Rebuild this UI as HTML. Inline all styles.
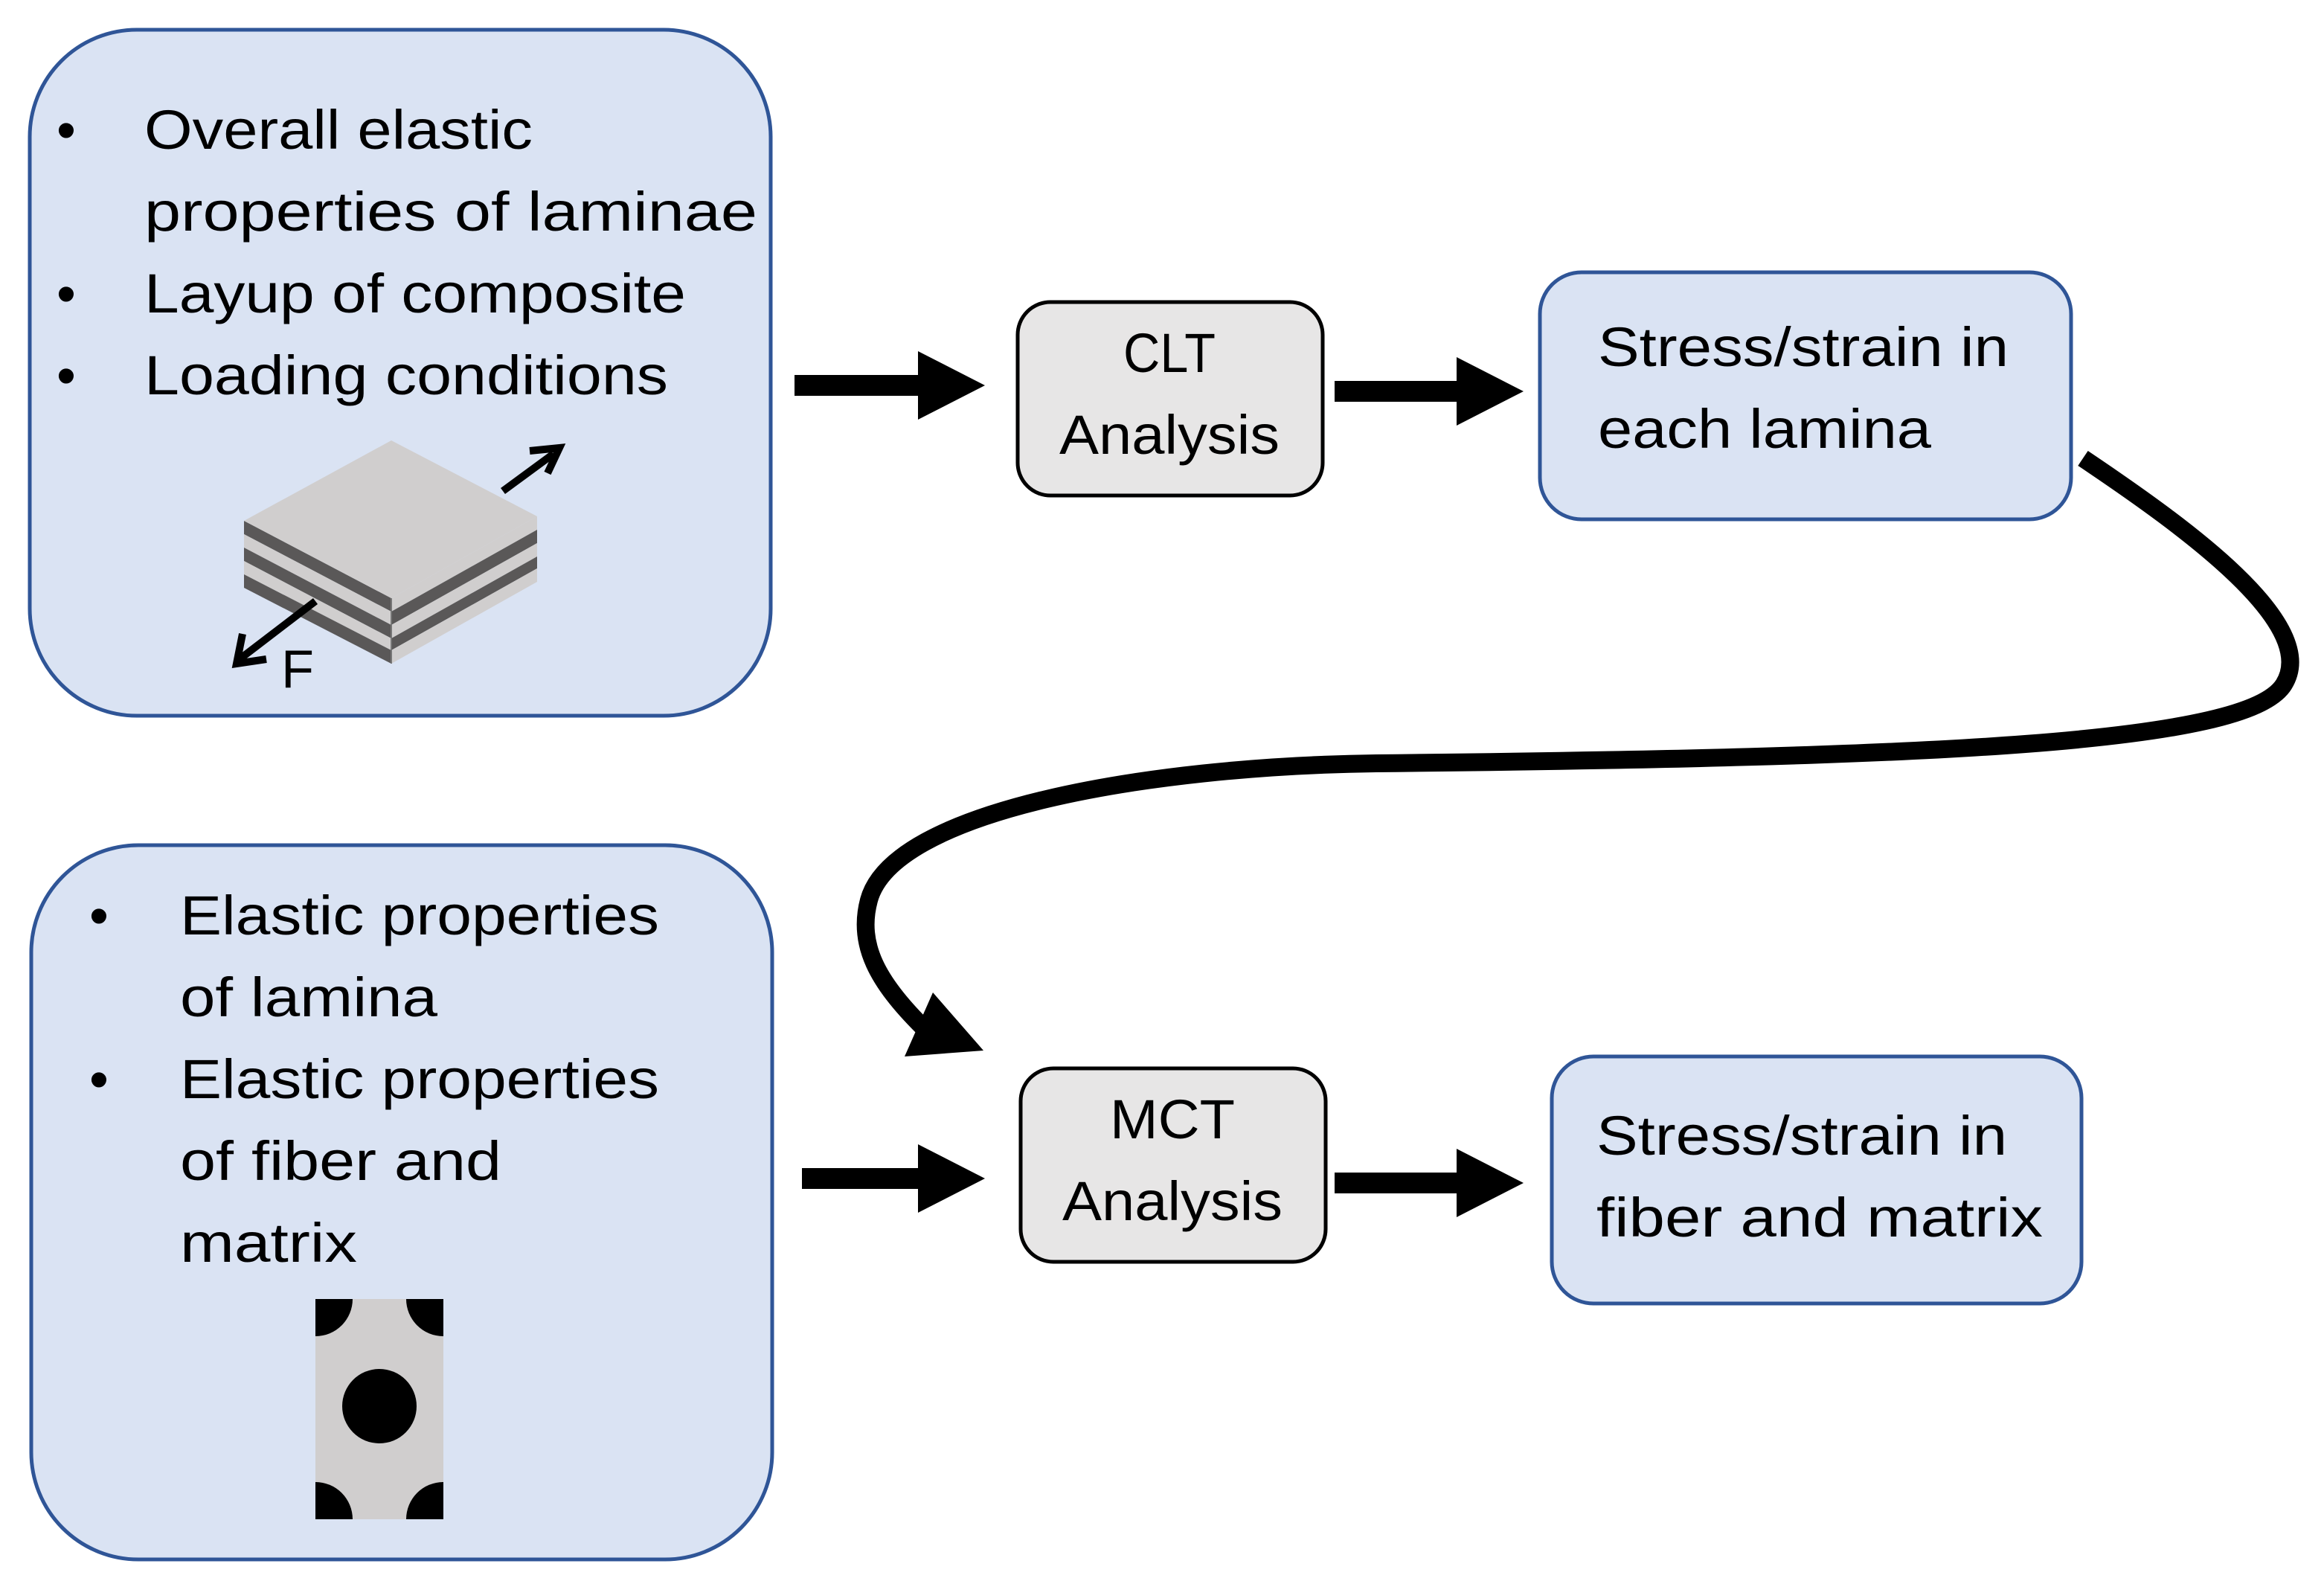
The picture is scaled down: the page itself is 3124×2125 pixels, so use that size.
<!DOCTYPE html>
<html><head><meta charset="utf-8"><style>
html,body{margin:0;padding:0;background:#fff;}
svg{display:block;}
text{font-family:"Liberation Sans",sans-serif;fill:#000;}
</style></head><body>
<svg width="3124" height="2125" viewBox="0 0 1562 1062.5" xmlns="http://www.w3.org/2000/svg">
<rect width="1562" height="1062.5" fill="#fff"/>
<rect x="20" y="20" width="498" height="461" rx="72" fill="#dae3f3" stroke="#2f5597" stroke-width="2.5"/>
<rect x="21" y="568" width="498" height="480" rx="72" fill="#dae3f3" stroke="#2f5597" stroke-width="2.5"/>
<g font-size="37">
<text x="38" y="100">•</text>
<text x="97" y="100" textLength="261" lengthAdjust="spacingAndGlyphs">Overall elastic</text>
<text x="97" y="155" textLength="412" lengthAdjust="spacingAndGlyphs">properties of  laminae</text>
<text x="38" y="210">•</text>
<text x="97" y="210" textLength="364" lengthAdjust="spacingAndGlyphs">Layup of composite</text>
<text x="38" y="265">•</text>
<text x="97" y="265" textLength="352" lengthAdjust="spacingAndGlyphs">Loading conditions</text>
</g>
<!-- laminate: left side bands (dark first) -->
<g>
<polygon points="164,350 263,402 263,411 164,359" fill="#5a5858"/>
<polygon points="164,359 263,411 263,420 164,368" fill="#d0cece"/>
<polygon points="164,368 263,420 263,429 164,377" fill="#5a5858"/>
<polygon points="164,377 263,429 263,437 164,386" fill="#d0cece"/>
<polygon points="164,386 263,437 263,446 164,395" fill="#5a5858"/>
<polygon points="263,402 361,347 361,356 263,411" fill="#d0cece"/>
<polygon points="263,411 361,356 361,365 263,420" fill="#5a5858"/>
<polygon points="263,420 361,365 361,374 263,429" fill="#d0cece"/>
<polygon points="263,429 361,374 361,382 263,437" fill="#5a5858"/>
<polygon points="263,437 361,382 361,391 263,446" fill="#d0cece"/>
</g>
<polygon points="263,296 361,347 263,402 164,350" fill="#d0cece"/>
<line x1="263" y1="402" x2="263" y2="446" stroke="#777" stroke-width="1"/>
<g stroke="#000" stroke-width="5" fill="none">
<line x1="338" y1="330" x2="372" y2="305"/>
<polyline points="356,303 376,301 368,318"/>
<line x1="212" y1="404" x2="161" y2="443"/>
<polyline points="163,426 159,446 179,443"/>
</g>
<text x="189" y="462" font-size="36">F</text>
<g font-size="37">
<text x="60" y="628">•</text>
<text x="121" y="628" textLength="322" lengthAdjust="spacingAndGlyphs">Elastic properties</text>
<text x="121" y="683" textLength="173" lengthAdjust="spacingAndGlyphs">of lamina</text>
<text x="60" y="738">•</text>
<text x="121" y="738" textLength="322" lengthAdjust="spacingAndGlyphs">Elastic properties</text>
<text x="121" y="793" textLength="216" lengthAdjust="spacingAndGlyphs">of fiber and</text>
<text x="121" y="848" textLength="119" lengthAdjust="spacingAndGlyphs">matrix</text>
</g>
<defs><clipPath id="uc"><rect x="212" y="873" width="86" height="148"/></clipPath></defs>
<rect x="212" y="873" width="86" height="148" fill="#d0cece"/>
<g clip-path="url(#uc)" fill="#000">
<circle cx="212" cy="873" r="25"/><circle cx="298" cy="873" r="25"/>
<circle cx="212" cy="1021" r="25"/><circle cx="298" cy="1021" r="25"/>
<circle cx="255" cy="945" r="25"/>
</g>
<rect x="684" y="203" width="205" height="130" rx="22" fill="#e7e6e6" stroke="#000" stroke-width="2.5"/>
<rect x="686" y="718" width="205" height="130" rx="22" fill="#e7e6e6" stroke="#000" stroke-width="2.5"/>
<rect x="1035" y="183" width="357" height="166" rx="28" fill="#dae3f3" stroke="#2f5597" stroke-width="2.5"/>
<rect x="1043" y="710" width="356" height="166" rx="28" fill="#dae3f3" stroke="#2f5597" stroke-width="2.5"/>
<g font-size="37" text-anchor="middle">
<text x="786" y="250" textLength="62" lengthAdjust="spacingAndGlyphs">CLT</text>
<text x="786" y="305" textLength="148" lengthAdjust="spacingAndGlyphs">Analysis</text>
<text x="788" y="765" textLength="84" lengthAdjust="spacingAndGlyphs">MCT</text>
<text x="788" y="820" textLength="148" lengthAdjust="spacingAndGlyphs">Analysis</text>
</g>
<g font-size="37">
<text x="1074" y="246" textLength="276" lengthAdjust="spacingAndGlyphs">Stress/strain in</text>
<text x="1074" y="301" textLength="224" lengthAdjust="spacingAndGlyphs">each lamina</text>
<text x="1073" y="776" textLength="276" lengthAdjust="spacingAndGlyphs">Stress/strain in</text>
<text x="1073" y="831" textLength="300" lengthAdjust="spacingAndGlyphs">fiber and matrix</text>
</g>
<g fill="#000">
<rect x="534" y="252" width="88" height="14"/><polygon points="617,236 662,259 617,282"/>
<rect x="897" y="256" width="88" height="14"/><polygon points="979,240 1024,263 979,286"/>
<rect x="539" y="785" width="83" height="14"/><polygon points="617,769 662,792 617,815"/>
<rect x="897" y="788" width="88" height="14"/><polygon points="979,772 1024,795 979,818"/>
</g>
<path d="M1400,308 C1470,355 1560,420 1535,460 C1510,500 1300,509 925,513 C770,515 600,545 584,605 C576,635 590,660 620,690" fill="none" stroke="#000" stroke-width="12"/>
<polygon points="608,710 627,667 661,706" fill="#000"/>
</svg>
</body></html>
